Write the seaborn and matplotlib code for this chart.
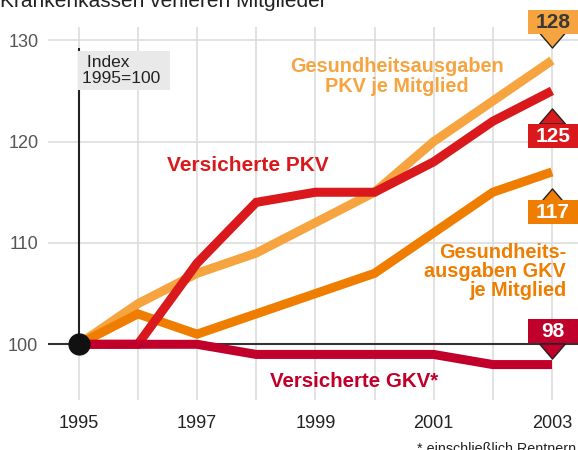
import pandas as pd
import matplotlib
matplotlib.use("Agg")
import matplotlib.pyplot as plt
import matplotlib.transforms as mtransforms
from matplotlib.path import Path
import seaborn as sns

years = [1995, 1996, 1997, 1998, 1999, 2000, 2001, 2002, 2003]
ausgaben_pkv = [100, 104, 107, 109, 112, 115, 120, 124, 128]
ausgaben_gkv = [100, 103, 101, 103, 105, 107, 111, 115, 117]
versicherte_pkv = [100, 100, 108, 114, 115, 115, 118, 122, 125]
versicherte_gkv = [100, 100, 100, 99, 99, 99, 99, 98, 98]

series_names = ["Ausgaben PKV", "Ausgaben GKV", "Versicherte PKV", "Versicherte GKV"]
series_values = [ausgaben_pkv, ausgaben_gkv, versicherte_pkv, versicherte_gkv]
colors = ["#F6A440", "#EE7D00", "#D9191C", "#C0002B"]
x_ticks = [1995, 1997, 1999, 2001, 2003]
y_ticks = [100, 110, 120, 130]

df = pd.DataFrame({
    "Jahr": years * len(series_names),
    "Index": [v for vals in series_values for v in vals],
    "Reihe": [n for n in series_names for _ in years],
})

sns.set_style("white")
plt.rcParams["font.family"] = ["Liberation Sans", "DejaVu Sans"]

fig = plt.figure(figsize=(5.78, 4.5), dpi=100)
ax = fig.add_axes([0.083, 0.111, 0.917, 0.829])

sns.lineplot(data=df, x="Jahr", y="Index", hue="Reihe", hue_order=series_names,
             palette=colors, linewidth=6.5, legend=False, ax=ax,
             solid_capstyle="butt", solid_joinstyle="miter")

ax.set_xlim(1994.48, 2003.44)
ax.set_ylim(94.5, 131.3)
ax.set_xticks(years)
ax.set_xticklabels([str(y) if y in x_ticks else "" for y in years])
ax.set_yticks(y_ticks)
ax.grid(True, color="#dddddd", linewidth=1.2, zorder=0)
ax.set_axisbelow(True)
for s in ax.spines.values():
    s.set_visible(False)
ax.tick_params(axis="x", length=0, pad=11, labelsize=13, labelcolor="#222222")
ax.tick_params(axis="y", length=0, pad=7, labelsize=13, labelcolor="#555555")
ax.set_xlabel("")
ax.set_ylabel("")

# Basislinie und Indexachse
ax.axhline(100, color="#333333", linewidth=1.5, zorder=1)
ax.vlines(1995, 100, 129.2, color="#222222", linewidth=1.5, zorder=1)
ax.plot([1995], [100], "o", color="#111111", markersize=15, zorder=10)

ax.text(1995.06, 127.0, " Index     \n1995=100 ", fontsize=12.5, color="#222222",
        va="center", ha="left", linespacing=1.05,
        bbox=dict(boxstyle="square,pad=0.25", fc="#E8E9E8", ec="none"), zorder=3)

# Beschriftungen
ax.text(2000.38, 126.4, "Gesundheitsausgaben\nPKV je Mitglied", color=colors[0],
        fontsize=14.3, fontweight="bold", ha="center", va="center", linespacing=1.05)
ax.text(1996.5, 117.6, "Versicherte PKV", color=colors[2],
        fontsize=15, fontweight="bold", ha="left", va="center")
ax.text(2003.24, 107.2, "Gesundheits-\nausgaben GKV\nje Mitglied", color=colors[1],
        fontsize=14.3, fontweight="bold", ha="right", va="center", linespacing=0.98)
ax.text(1998.23, 96.3, "Versicherte GKV*", color=colors[3],
        fontsize=14.8, fontweight="bold", ha="left", va="center")

# Wertfahnen am Ende
def tri(direction):
    h = 0.58 * direction
    return Path([(-1, h), (1, h), (0, -h), (-1, h)],
                [Path.MOVETO, Path.LINETO, Path.LINETO, Path.CLOSEPOLY])

box = Path([(-1, -0.48), (1, -0.48), (1, 0.48), (-1, 0.48), (-1, -0.48)],
           [Path.MOVETO, Path.LINETO, Path.LINETO, Path.LINETO, Path.CLOSEPOLY])

# (Wert, Farbe, Textfarbe, Versatz Box in pt, Versatz Spitze in pt, Richtung)
callouts = [
    (ausgaben_pkv[-1], colors[0], "#383838", 27.9, 15.0, 1),
    (versicherte_pkv[-1], colors[2], "white", -32.3, -18.0, -1),
    (ausgaben_gkv[-1], colors[1], "white", -28.7, -17.1, -1),
    (versicherte_gkv[-1], colors[3], "white", 24.0, 9.9, 1),
]
for val, col, tcol, dy, tip, direction in callouts:
    tr = mtransforms.offset_copy(ax.transData, fig=fig, x=0, y=tip, units="points")
    ax.plot([years[-1]], [val], marker=tri(direction), markersize=18.7, color=col,
            markeredgecolor="#222222", markeredgewidth=1.0, transform=tr,
            zorder=11, clip_on=False)
    trb = mtransforms.offset_copy(ax.transData, fig=fig, x=0.7, y=dy, units="points")
    ax.plot([years[-1]], [val], marker=box, markersize=35.3, color=col,
            markeredgewidth=0, transform=trb, zorder=12, clip_on=False)
    ax.annotate(str(val), (years[-1], val), xytext=(0.7, dy - 0.3), textcoords="offset points",
                ha="center", va="center", fontsize=15, fontweight="bold", color=tcol,
                zorder=13, annotation_clip=False)

fig.text(0.0, 0.997, "Krankenkassen verlieren Mitglieder", fontsize=15,
         color="#222222", ha="left", va="center")
fig.text(0.997, 0.003, "* einschließlich Rentnern", fontsize=10.3, color="#222222",
         ha="right", va="center")

fig.savefig("out.png", dpi=100)
